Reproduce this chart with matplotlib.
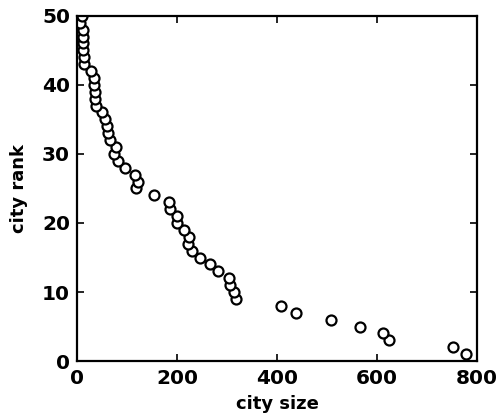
import numpy as np
import matplotlib
matplotlib.use("Agg")
import matplotlib.pyplot as plt

# city size for ranks 1..50
city_rank = np.arange(1, 51)
city_size = [
    778, 751, 623, 611, 565, 508, 437, 408, 318, 313,
    305, 303, 282, 265, 245, 230, 221, 223, 213, 200,
    199, 186, 183, 153, 118, 121, 116, 96, 81, 74,
    78, 65, 61, 59, 56, 49, 38, 36, 36, 34,
    33, 27, 14, 14, 11, 11, 11, 11, 6, 9,
]

x_ticks = [0, 200, 400, 600, 800]
y_ticks = [0, 10, 20, 30, 40, 50]

plt.rcParams["font.family"] = ["DejaVu Sans"]
plt.rcParams["font.weight"] = "bold"

fig = plt.figure(figsize=(5.0, 4.16), dpi=100)
ax = fig.add_axes([0.154, 0.132, 0.8, 0.83])

ax.plot(city_size, city_rank, linestyle="none", marker="o",
        markersize=7.2, markerfacecolor="white", markeredgecolor="black",
        markeredgewidth=1.6)

ax.set_xlim(0, 800)
ax.set_ylim(0, 50)
ax.set_xticks(x_ticks)
ax.set_yticks(y_ticks)
ax.tick_params(direction="in", length=5, width=1.2, top=True, right=True,
               labelsize=14.5)
ax.tick_params(axis="x", pad=6)
ax.tick_params(axis="y", pad=5)
for s in ax.spines.values():
    s.set_linewidth(1.6)

ax.set_xlabel("city size", fontsize=13, fontweight="bold", labelpad=5)
ax.set_ylabel("city rank", fontsize=13, fontweight="bold", labelpad=10)

fig.savefig("out.png", dpi=100)
plt.close(fig)
